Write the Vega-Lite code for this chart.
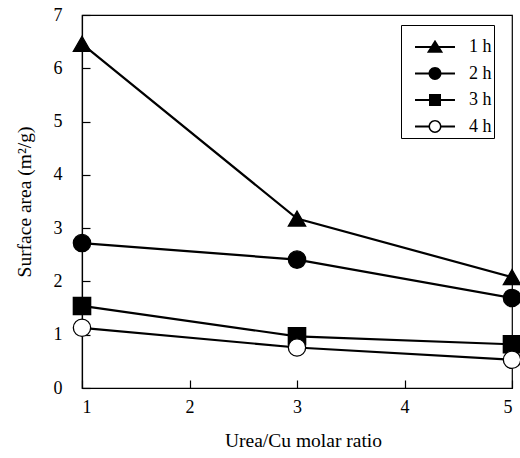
{
  "$schema": "https://vega.github.io/schema/vega-lite/v6.json",
  "width": 430,
  "height": 373,
  "autosize": {"type": "none"},
  "padding": {"left": 82, "top": 15, "right": 8, "bottom": 70},
  "background": "white",
  "config": {
    "font": "Liberation Serif",
    "view": {"stroke": "black", "strokeWidth": 1.2},
    "axis": {"grid": false, "domain": true, "domainColor": "black", "tickColor": "black", "labelColor": "black", "titleColor": "black", "labelFont": "Liberation Serif", "titleFont": "Liberation Serif", "titleFontWeight": "normal", "labelFontSize": 18, "tickSize": -8, "tickWidth": 1.2, "domainWidth": 1.2}
  },
  "data": {
    "values": [
      {"ratio": 1, "area": 6.46, "series": "1 h"},
      {"ratio": 3, "area": 3.18, "series": "1 h"},
      {"ratio": 5, "area": 2.08, "series": "1 h"},
      {"ratio": 1, "area": 2.72, "series": "2 h"},
      {"ratio": 3, "area": 2.41, "series": "2 h"},
      {"ratio": 5, "area": 1.69, "series": "2 h"},
      {"ratio": 1, "area": 1.54, "series": "3 h"},
      {"ratio": 3, "area": 0.97, "series": "3 h"},
      {"ratio": 5, "area": 0.82, "series": "3 h"},
      {"ratio": 1, "area": 1.13, "series": "4 h"},
      {"ratio": 3, "area": 0.76, "series": "4 h"},
      {"ratio": 5, "area": 0.53, "series": "4 h"}
    ]
  },
  "encoding": {
    "x": {"field": "ratio", "type": "quantitative", "scale": {"domain": [1, 5], "nice": false, "zero": false}, "axis": {"values": [1, 2, 3, 4, 5], "title": "Urea/Cu molar ratio", "titleFontSize": 19.5, "titleX": 221, "labelPadding": 18, "titlePadding": 15, "format": "d"}},
    "y": {"field": "area", "type": "quantitative", "scale": {"domain": [0, 7], "nice": false}, "axis": {"values": [0, 1, 2, 3, 4, 5, 6, 7], "title": "Surface area (m²/g)", "titleFontSize": 19.5, "labelPadding": 28, "titlePadding": 19, "format": "d"}}
  },
  "resolve": {"scale": {"shape": "independent"}},
  "layer": [
    {
      "mark": {"type": "line", "color": "black", "strokeWidth": 2.2},
      "encoding": {"detail": {"field": "series"}}
    },
    {
      "mark": {"type": "point", "filled": true, "stroke": "black", "strokeWidth": 1.3, "size": 300, "opacity": 1},
      "encoding": {
        "shape": {
          "field": "series", "type": "nominal",
          "scale": {"domain": ["1 h", "2 h", "3 h", "4 h"], "range": ["triangle-up", "circle", "square", "circle"]},
          "legend": null
        },
        "fill": {
          "field": "series", "type": "nominal",
          "scale": {"domain": ["1 h", "2 h", "3 h", "4 h"], "range": ["black", "black", "black", "white"]},
          "legend": null
        }
      }
    },
    {
      "transform": [{"filter": "datum.area < 0"}],
      "mark": {"type": "point", "filled": true, "color": "black", "opacity": 1},
      "encoding": {
        "shape": {
          "field": "series", "type": "nominal",
          "scale": {"domain": ["1 h", "2 h", "3 h", "4 h"], "range": [
            "M-3.33,-0.17H3.33V0.17H-3.33Z M-1.35,0.95L0,-1.2L1.35,0.95Z",
            "M-3.33,-0.17H3.33V0.17H-3.33Z M1.08,0A1.08,1.08 0 1 1 -1.08,0A1.08,1.08 0 1 1 1.08,0Z",
            "M-3.33,-0.17H3.33V0.17H-3.33Z M-1,-1H1V1H-1Z",
            "M-3.33,-0.17H-1V0.17H-3.33Z M1,-0.17H3.33V0.17H1Z M1.08,0A1.08,1.08 0 1 1 -1.08,0A1.08,1.08 0 1 1 1.08,0Z M0.82,0A0.82,0.82 0 1 0 -0.82,0A0.82,0.82 0 1 0 0.82,0Z"
          ]},
          "legend": {
            "title": " ", "titleFontSize": 2, "titlePadding": 9,
            "orient": "none", "legendX": 319, "legendY": 10,
            "strokeColor": "black", "fillColor": "white", "padding": 2,
            "symbolSize": 144, "symbolOffset": 23, "labelOffset": 25,
            "symbolFillColor": "black", "symbolStrokeWidth": 0, "symbolOpacity": 1,
            "labelFontSize": 18, "labelFont": "Liberation Serif", "labelColor": "black",
            "rowPadding": 8.5,
            "labelExpr": "datum.label + '\u2002\u200a'"
          }
        }
      }
    }
  ]
}
